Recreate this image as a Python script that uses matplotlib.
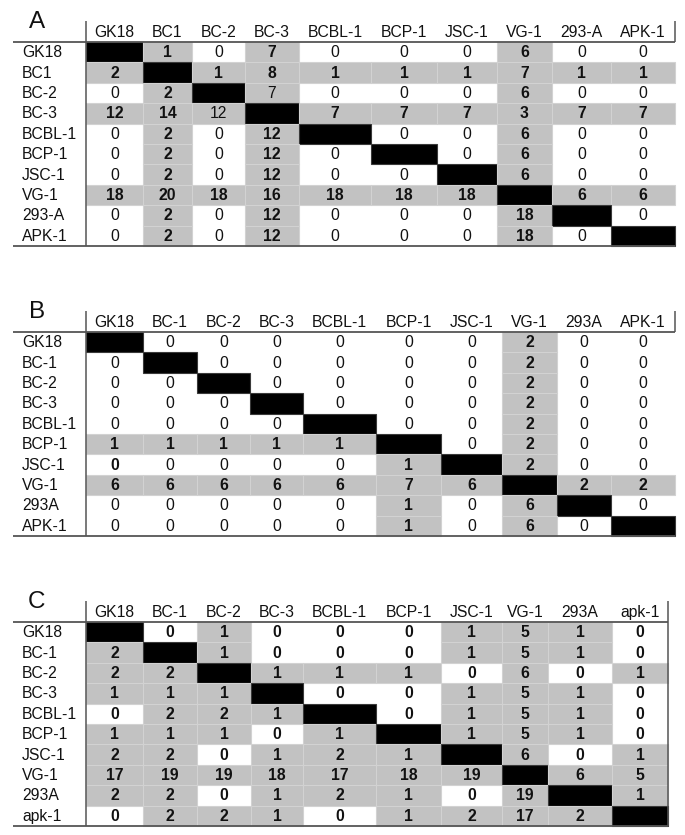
import matplotlib.pyplot as plt
from matplotlib.patches import Rectangle
from matplotlib import font_manager

# ---- data ----
cols_a = ['GK18', 'BC1', 'BC-2', 'BC-3', 'BCBL-1', 'BCP-1', 'JSC-1', 'VG-1', '293-A', 'APK-1']
rows_a = cols_a
vals_a = [
    [None, 1, 0, 7, 0, 0, 0, 6, 0, 0],
    [2, None, 1, 8, 1, 1, 1, 7, 1, 1],
    [0, 2, None, 7, 0, 0, 0, 6, 0, 0],
    [12, 14, 12, None, 7, 7, 7, 3, 7, 7],
    [0, 2, 0, 12, None, 0, 0, 6, 0, 0],
    [0, 2, 0, 12, 0, None, 0, 6, 0, 0],
    [0, 2, 0, 12, 0, 0, None, 6, 0, 0],
    [18, 20, 18, 16, 18, 18, 18, None, 6, 6],
    [0, 2, 0, 12, 0, 0, 0, 18, None, 0],
    [0, 2, 0, 12, 0, 0, 0, 18, 0, None],
]
plain_a = [(3, 2), (2, 3)]   # shaded cells printed in normal weight
bold_a = []

cols_b = ['GK18', 'BC-1', 'BC-2', 'BC-3', 'BCBL-1', 'BCP-1', 'JSC-1', 'VG-1', '293A', 'APK-1']
rows_b = cols_b
vals_b = [
    [None, 0, 0, 0, 0, 0, 0, 2, 0, 0],
    [0, None, 0, 0, 0, 0, 0, 2, 0, 0],
    [0, 0, None, 0, 0, 0, 0, 2, 0, 0],
    [0, 0, 0, None, 0, 0, 0, 2, 0, 0],
    [0, 0, 0, 0, None, 0, 0, 2, 0, 0],
    [1, 1, 1, 1, 1, None, 0, 2, 0, 0],
    [0, 0, 0, 0, 0, 1, None, 2, 0, 0],
    [6, 6, 6, 6, 6, 7, 6, None, 2, 2],
    [0, 0, 0, 0, 0, 1, 0, 6, None, 0],
    [0, 0, 0, 0, 0, 1, 0, 6, 0, None],
]
plain_b = []
bold_b = [(6, 0)]            # unshaded cell printed bold

cols_c = ['GK18', 'BC-1', 'BC-2', 'BC-3', 'BCBL-1', 'BCP-1', 'JSC-1', 'VG-1', '293A', 'apk-1']
rows_c = cols_c
vals_c = [
    [None, 0, 1, 0, 0, 0, 1, 5, 1, 0],
    [2, None, 1, 0, 0, 0, 1, 5, 1, 0],
    [2, 2, None, 1, 1, 1, 0, 6, 0, 1],
    [1, 1, 1, None, 0, 0, 1, 5, 1, 0],
    [0, 2, 2, 1, None, 0, 1, 5, 1, 0],
    [1, 1, 1, 0, 1, None, 1, 5, 1, 0],
    [2, 2, 0, 1, 2, 1, None, 6, 0, 1],
    [17, 19, 19, 18, 17, 18, 19, None, 6, 5],
    [2, 2, 0, 1, 2, 1, 0, 19, None, 1],
    [0, 2, 2, 1, 0, 1, 2, 17, 2, None],
]
plain_c = []
bold_c = 'all'

# ---- layout (pixels) ----
edges_a = [86, 143, 192, 245, 299, 371, 437, 497, 552, 611, 675]
edges_b = [86, 143, 197, 250, 303, 376, 441, 502, 557, 611, 675]
edges_c = [86, 143, 197, 251, 303, 376, 441, 502, 548, 612, 668]
rh = 20.4
GRAY = '#c2c2c2'
LINE = '#555555'

fam = ['Liberation Sans']
try:
    font_manager.findfont('Liberation Sans Narrow', fallback_to_default=False)
    fam = ['Liberation Sans Narrow', 'Liberation Sans']
    fs = 13.5
except Exception:
    fs = 11.3
plt.rcParams['font.family'] = fam

fig = plt.figure(figsize=(6.85, 8.35), dpi=100)
ax = fig.add_axes([0, 0, 1, 1])
ax.set_xlim(0, 685)
ax.set_ylim(835, 0)
ax.axis('off')


def draw_panel(letter, cols, rows, vals, edges, top, plain, bold, right_full):
    n = len(rows)
    bottom = top + n * rh
    for i in range(n):
        for j in range(n):
            x0, x1 = edges[j], edges[j + 1]
            y0 = top + i * rh
            v = vals[i][j]
            if v is None:
                ax.add_patch(Rectangle((x0, y0), x1 - x0, rh, fc='black', ec='#3a3a3a', lw=0.8))
                continue
            if v != 0:
                ax.add_patch(Rectangle((x0, y0), x1 - x0, rh, fc=GRAY, ec='#d2d2d2', lw=0.8))
            if bold == 'all':
                w = 'bold'
            elif v != 0:
                w = 'normal' if (i, j) in plain else 'bold'
            else:
                w = 'bold' if (i, j) in bold else 'normal'
            ax.text((x0 + x1) / 2, y0 + rh / 2 + 0.5, str(v), ha='center', va='center',
                    fontsize=fs, fontweight=w, color='#111111')
    for i, r in enumerate(rows):
        ax.text(22, top + i * rh + rh / 2 + 0.5, r, ha='left', va='center', fontsize=fs, color='#111111')
    for j, c in enumerate(cols):
        ax.text((edges[j] + edges[j + 1]) / 2, top - 9.5, c, ha='center', va='center',
                fontsize=fs, color='#111111')
    ax.text(37, top - 20, letter, ha='center', va='center', fontsize=17.5, color='#111111')
    ax.plot([13, edges[-1]], [top, top], color=LINE, lw=1.3, solid_capstyle='butt')
    ax.plot([13, edges[-1]], [bottom, bottom], color=LINE, lw=1.3, solid_capstyle='butt')
    ax.plot([edges[0], edges[0]], [top - 21, bottom], color=LINE, lw=1.1, solid_capstyle='butt')
    ax.plot([edges[-1], edges[-1]], [top - 21, bottom if right_full else top], color=LINE, lw=1.1,
            solid_capstyle='butt')


draw_panel('A', cols_a, rows_a, vals_a, edges_a, 42, plain_a, bold_a, False)
draw_panel('B', cols_b, rows_b, vals_b, edges_b, 332, plain_b, bold_b, False)
draw_panel('C', cols_c, rows_c, vals_c, edges_c, 622, plain_c, bold_c, True)

fig.savefig('out.png', dpi=100)
